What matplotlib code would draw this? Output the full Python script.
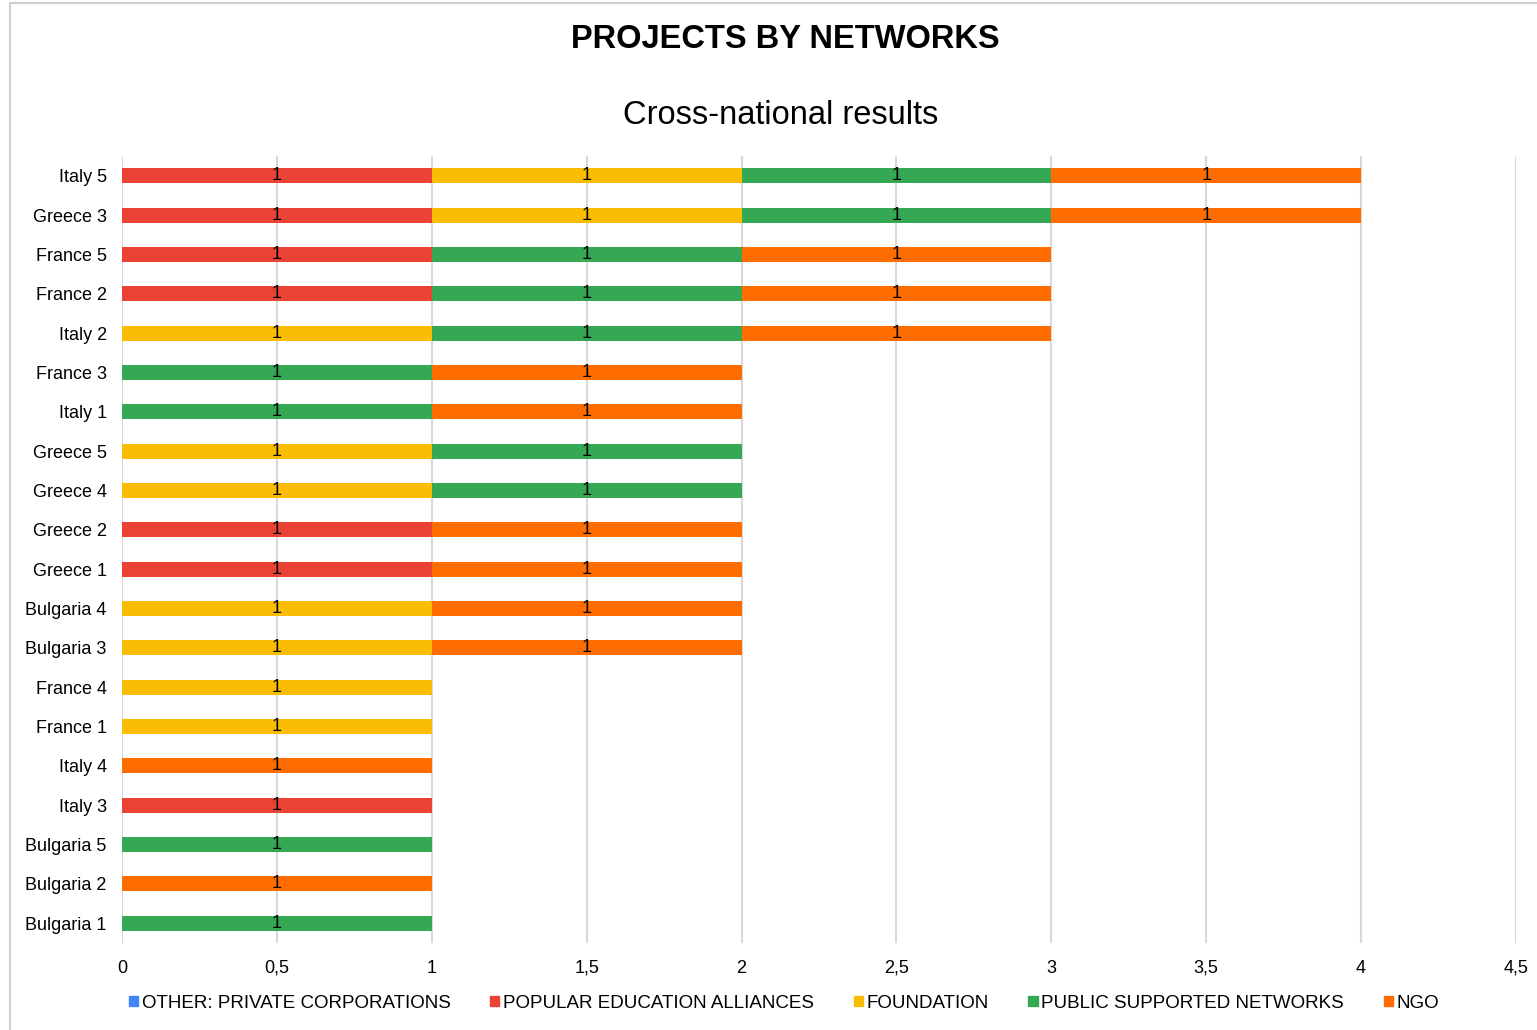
import matplotlib
matplotlib.use("Agg")
from matplotlib import pyplot as plt
from matplotlib.patches import Rectangle, Patch

plt.rcParams['font.family'] = ['Liberation Sans', 'DejaVu Sans']

projects = ['Italy 5', 'Greece 3', 'France 5', 'France 2', 'Italy 2', 'France 3',
            'Italy 1', 'Greece 5', 'Greece 4', 'Greece 2', 'Greece 1', 'Bulgaria 4',
            'Bulgaria 3', 'France 4', 'France 1', 'Italy 4', 'Italy 3', 'Bulgaria 5',
            'Bulgaria 2', 'Bulgaria 1']

other      = [0, 0, 0, 0, 0, 0, 0, 0, 0, 0, 0, 0, 0, 0, 0, 0, 0, 0, 0, 0]
popular    = [1, 1, 1, 1, 0, 0, 0, 0, 0, 1, 1, 0, 0, 0, 0, 0, 1, 0, 0, 0]
foundation = [1, 1, 0, 0, 1, 0, 0, 1, 1, 0, 0, 1, 1, 1, 1, 0, 0, 0, 0, 0]
public     = [1, 1, 1, 1, 1, 1, 1, 1, 1, 0, 0, 0, 0, 0, 0, 0, 0, 1, 0, 1]
ngo        = [1, 1, 1, 1, 1, 1, 1, 0, 0, 1, 1, 1, 1, 0, 0, 1, 0, 0, 1, 0]

series_names = ['OTHER: PRIVATE CORPORATIONS', 'POPULAR EDUCATION ALLIANCES',
                'FOUNDATION', 'PUBLIC SUPPORTED NETWORKS', 'NGO']
series_vals = [other, popular, foundation, public, ngo]
colors = ['#4285F4', '#EA4335', '#FBBC04', '#34A853', '#FF6D01']

xticks = [0, 0.5, 1, 1.5, 2, 2.5, 3, 3.5, 4, 4.5]
xticklabels = ['0', '0,5', '1', '1,5', '2', '2,5', '3', '3,5', '4', '4,5']

fig = plt.figure(figsize=(15.37, 10.30), dpi=100)
ax = fig.add_axes([122/1537, 1-943/1030, (1516-122)/1537, (943-156)/1030])

# outer chart frame
fig.patches.append(Rectangle((10/1537, -0.05), 1.2, 1.05 - 3/1030,
                             transform=fig.transFigure, fill=False,
                             edgecolor='#d0d0d0', linewidth=1.5))

ypos = list(range(len(projects)))
left = [0] * len(projects)
for name, vals, col in zip(series_names, series_vals, colors):
    bars = ax.barh(ypos, vals, left=left, height=0.38, color=col, label=name, zorder=3)
    for b, v, l in zip(bars, vals, left):
        if v > 0:
            ax.text(l + v / 2, b.get_y() + b.get_height() / 2, str(v),
                    ha='center', va='center', fontsize=13, color='black', zorder=4)
    left = [a + b for a, b in zip(left, vals)]

ax.set_xlim(0, 4.5)
ax.set_ylim(19.5, -0.5)
ax.set_yticks(ypos)
ax.set_yticklabels(projects, fontsize=13)
ax.set_xticks(xticks)
ax.set_xticklabels(xticklabels, fontsize=13)
ax.tick_params(axis='y', length=0, pad=11)
ax.tick_params(axis='x', length=0, pad=12)
ax.grid(axis='x', color='#d9d9d9', linewidth=1.5, zorder=0)
for s in ax.spines.values():
    s.set_visible(False)

fig.text(785/1537, 1-40/1030, 'PROJECTS BY NETWORKS', ha='center', va='center',
         fontsize=23.5, fontweight='bold')
fig.text(781/1537, 1-115/1030, 'Cross-national results', ha='center', va='center',
         fontsize=23.5)

handles = [Patch(color=c) for c in colors]
fig.legend(handles, series_names, loc='center', bbox_to_anchor=(784/1537, 1-1003/1030),
           ncol=5, frameon=False, fontsize=13.5, handlelength=0.5, handleheight=0.5,
           handletextpad=0.2, columnspacing=2.1)

fig.savefig('out.png', dpi=100)
